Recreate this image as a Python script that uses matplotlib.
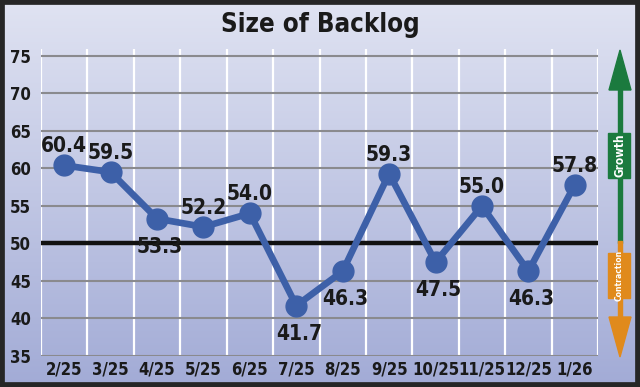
import matplotlib
matplotlib.use("Agg")
import matplotlib.pyplot as plt
import numpy as np
from matplotlib.patches import Polygon, Rectangle

months = ["2/25", "3/25", "4/25", "5/25", "6/25", "7/25", "8/25", "9/25",
          "10/25", "11/25", "12/25", "1/26"]
values = [60.4, 59.5, 53.3, 52.2, 54.0, 41.7, 46.3, 59.3, 47.5, 55.0, 46.3, 57.8]
label_above = [True, True, False, True, True, False, False, True, False, True, False, True]
yticks = [35, 40, 45, 50, 55, 60, 65, 70, 75]
title = "Size of Backlog"

FONT = ["DejaVu Sans"]
ST = "condensed"
W, H = 640, 387
fig = plt.figure(figsize=(6.4, 3.87), dpi=100)

def fx(px):
    return px / W

def fy(py):
    return 1 - py / H

# background gradient
bg = fig.add_axes([0, 0, 1, 1], zorder=-10)
top = np.array([224, 227, 242]) / 255
bot = np.array([162, 171, 214]) / 255
t = np.linspace(0, 1, 256)[:, None]
grad = (top[None, :] * (1 - t) + bot[None, :] * t)[:, None, :]
bg.imshow(grad, aspect="auto", extent=[0, 1, 0, 1], origin="upper")
bg.set_xlim(0, 1)
bg.set_ylim(0, 1)
bg.axis("off")
bg.add_patch(Rectangle((0, 0), 1, 1, transform=bg.transAxes, fill=False,
                       edgecolor="#262626", linewidth=7, clip_on=False))

ax = fig.add_axes([fx(41), fy(356), fx(598) - fx(41), fy(49) - fy(356)])
ax.set_facecolor("none")
x = np.arange(len(months))
ax.set_xlim(-0.5, len(months) - 0.5)
ax.set_ylim(35, 75.9)

for xv in np.arange(-0.5, len(months) + 0.5, 1):
    ax.axvline(xv, color="white", linewidth=1.6, zorder=1)
for yv in yticks:
    if yv == 50:
        continue
    ax.plot([-0.48, len(months) - 0.5], [yv, yv], color="#8a8a8e", linewidth=1.5, zorder=2)
ax.plot([-0.48, len(months) - 0.5], [50, 50], color="#111111", linewidth=3.2, zorder=3)

ax.plot(x, values, color="#3d60a8", linewidth=4.8, marker="o", markersize=15,
        markerfacecolor="#3d60a8", markeredgecolor="#3d60a8", zorder=5)

for xi, v, up in zip(x, values, label_above):
    if up:
        ax.annotate(f"{v:.1f}", (xi, v), xytext=(0, 6.5), textcoords="offset points",
                    ha="center", va="bottom", fontsize=15, fontweight="bold",
                    family=FONT, fontstretch=ST, color="#1a1a1a", zorder=6)
    else:
        ax.annotate(f"{v:.1f}", (xi, v), xytext=(2, -13), textcoords="offset points",
                    ha="center", va="top", fontsize=15, fontweight="bold",
                    family=FONT, fontstretch=ST, color="#1a1a1a", zorder=6)

ax.set_xticks(x)
ax.set_xticklabels(months)
ax.set_yticks(yticks)
ax.tick_params(length=0, pad=7)
for lab in ax.get_xticklabels() + ax.get_yticklabels():
    lab.set_fontsize(12)
    lab.set_fontweight("bold")
    lab.set_family(FONT)
    lab.set_fontstretch(ST)
    lab.set_color("#1a1a1a")
ax.tick_params(axis="x", pad=3)
for s in ax.spines.values():
    s.set_visible(False)

fig.text(0.5, fy(25), title, ha="center", va="center", fontsize=18.5,
         fontweight="bold", family=FONT, fontstretch=ST, color="#1a1a1a")

# growth / contraction arrow
green = "#1b7a3e"
orange = "#e08a1c"
cx = 620
fig.patches.append(Rectangle((fx(cx - 1.7), fy(243)), fx(3.4), fy(88) - fy(243),
                             transform=fig.transFigure, color=green))
fig.patches.append(Polygon([[fx(cx), fy(50)], [fx(cx - 11), fy(90)], [fx(cx + 11), fy(90)]],
                           closed=True, transform=fig.transFigure, color=green))
fig.patches.append(Rectangle((fx(cx - 1.7), fy(319)), fx(3.4), fy(241) - fy(319),
                             transform=fig.transFigure, color=orange))
fig.patches.append(Polygon([[fx(cx), fy(357)], [fx(cx - 11), fy(317)], [fx(cx + 11), fy(317)]],
                           closed=True, transform=fig.transFigure, color=orange))
fig.patches.append(Rectangle((fx(608), fy(178)), fx(22), fy(133) - fy(178),
                             transform=fig.transFigure, color=green))
fig.patches.append(Rectangle((fx(608), fy(298)), fx(22), fy(253) - fy(298),
                             transform=fig.transFigure, color=orange))
fig.text(fx(619.5), fy(155.5), "Growth", rotation=90, ha="center", va="center",
         fontsize=8.5, fontweight="bold", family=FONT, fontstretch=ST, color="white")
fig.text(fx(619.5), fy(275.5), "Contraction", rotation=90, ha="center", va="center",
         fontsize=6.2, fontweight="bold", family=FONT, fontstretch=ST, color="white")

fig.savefig("out.png", dpi=100)
